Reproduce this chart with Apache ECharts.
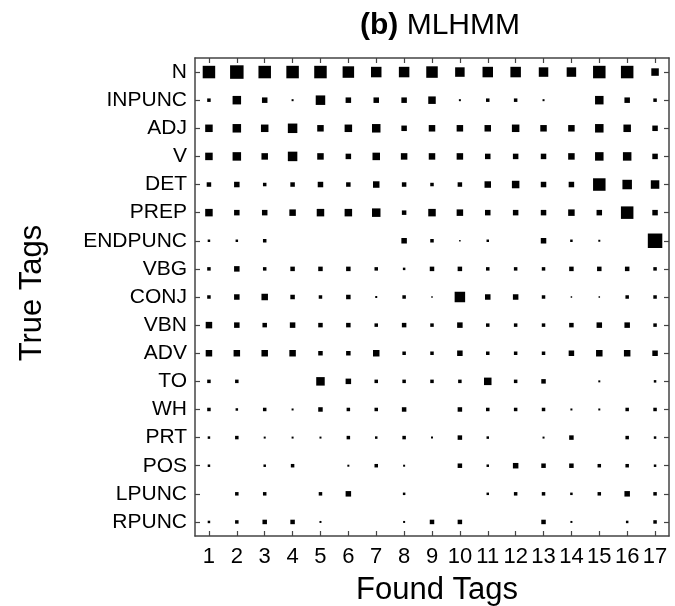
<!DOCTYPE html>
<html>
<head>
<meta charset="utf-8">
<script src="https://cdn.jsdelivr.net/npm/echarts@6/dist/echarts.min.js"></script>
<style>html,body{margin:0;padding:0;background:#fff;}#c{width:675px;height:606px;}</style>
</head>
<body>
<div id="c"></div>
<script>
const trueTags = ['N','INPUNC','ADJ','V','DET','PREP','ENDPUNC','VBG','CONJ','VBN','ADV','TO','WH','PRT','POS','LPUNC','RPUNC'];
const foundTags = ['1','2','3','4','5','6','7','8','9','10','11','12','13','14','15','16','17'];

// Relative weight of each cell (row = true tag, column = found tag)
const rowN       = [12,13,12,12,12,11,10,10,11,9,10,10,9,9,12,12,7];
const rowINPUNC  = [3,8,5,1.5,9,5,5,5,7,1.5,3,3,1.5,0,8,5,3];
const rowADJ     = [7,8,7,9,6,7,8,5,6,6,6,7,6,6,8,7,5];
const rowV       = [7,8,6,9,6,5,7,6,6,6,5,5,5,6,8,8,5];
const rowDET     = [4,5,3,4,5,4,6,4,3,4,6,7,5,5,12,9,8];
const rowPREP    = [7,5,5,6,7,7,8,4,7,6,5,5,5,6,5,12,5];
const rowENDPUNC = [2,2,3,0,0,0,0,5,3,1,2,0,5,2,1.5,0,14];
const rowVBG     = [3,5,3,4,4,4,3,2,4,4,3,3,3,4,4,4,3];
const rowCONJ    = [3,5,6,4,3,4,1.5,3,1,10,5,5,3,1,1,3,3];
const rowVBN     = [6,5,4,5,4,4,3,4,3,5,3,3,3,4,5,5,3];
const rowADV     = [6,6,6,6,4,4,6,3,3,5,3,3,3,5,6,6,5];
const rowTO      = [3,3,0,0,8,5,3,3,3,3,7,3,4,0,1.5,0,2];
const rowWH      = [3,2,3,1.5,4,3,3,4,0,4,3,3,3,1.5,1.5,3,3];
const rowPRT     = [2,3,1.5,1.5,1.5,3,2,3,1.5,4,2,0,1.5,4,0,3,2];
const rowPOS     = [2,0,2,3,0,1.5,3,1.5,0,4,2,5,4,4,3,3,2];
const rowLPUNC   = [0,3,3,0,3,5,0,2,0,0,2,3,3,2,3,5,3];
const rowRPUNC   = [2,3,4,4,1.5,0,0,1.5,4,4,0,0,4,1.5,0,2,3];

const rows = [rowN,rowINPUNC,rowADJ,rowV,rowDET,rowPREP,rowENDPUNC,rowVBG,rowCONJ,rowVBN,rowADV,rowTO,rowWH,rowPRT,rowPOS,rowLPUNC,rowRPUNC];

const data = [];
rows.forEach((r, i) => r.forEach((v, j) => { if (v > 0) data.push([j, i, v]); }));

const FONT = 'Liberation Sans';
const axisLineStyle = { color: '#444', width: 1.5 };
const tickStyle = { show: true, inside: true, length: 5, alignWithLabel: true, lineStyle: { color: '#444', width: 1.2 } };

const chart = echarts.init(document.getElementById('c'), null, { renderer: 'canvas' });
chart.setOption({
  animation: false,
  backgroundColor: '#fff',
  title: {
    text: '{b|(b)} MLHMM',
    left: 355, top: 6,
    textStyle: {
      fontFamily: FONT, fontSize: 30, fontWeight: 'normal', color: '#000',
      rich: { b: { fontFamily: FONT, fontSize: 30, fontWeight: 'bold', color: '#000' } }
    }
  },
  grid: { left: 195, right: 6, top: 58, bottom: 70, containLabel: false },
  xAxis: [
    { type: 'category', data: foundTags, position: 'bottom', boundaryGap: true,
      axisLine: { show: true, lineStyle: axisLineStyle }, axisTick: tickStyle,
      axisLabel: { fontFamily: FONT, fontSize: 22, color: '#000', margin: 10, interval: 0 },
      splitLine: { show: false } },
    { type: 'category', data: foundTags, position: 'top', boundaryGap: true,
      axisLine: { show: true, lineStyle: axisLineStyle }, axisTick: tickStyle,
      axisLabel: { show: false }, splitLine: { show: false } }
  ],
  yAxis: [
    { type: 'category', data: trueTags, inverse: true, position: 'left', boundaryGap: true,
      axisLine: { show: true, lineStyle: axisLineStyle }, axisTick: tickStyle,
      axisLabel: { fontFamily: FONT, fontSize: 21, color: '#000', margin: 8, interval: 0 },
      splitLine: { show: false } },
    { type: 'category', data: trueTags, inverse: true, position: 'right', boundaryGap: true,
      axisLine: { show: true, lineStyle: axisLineStyle }, axisTick: tickStyle,
      axisLabel: { show: false }, splitLine: { show: false } }
  ],
  graphic: [
    { type: 'text', x: 437, y: 590, style: { text: 'Found Tags', fontFamily: FONT, fontSize: 31, fill: '#000', textAlign: 'center', textVerticalAlign: 'middle' } },
    { type: 'text', x: 32, y: 293, rotation: Math.PI / 2, style: { text: 'True Tags', fontFamily: FONT, fontSize: 31, fill: '#000', textAlign: 'center', textVerticalAlign: 'middle' } }
  ],
  series: [{
    type: 'scatter',
    xAxisIndex: 0, yAxisIndex: 0,
    symbol: 'rect',
    symbolSize: v => v[2] + 0.5,
    itemStyle: { color: '#000', opacity: 1 },
    data: data
  }]
});
</script>
</body>
</html>
